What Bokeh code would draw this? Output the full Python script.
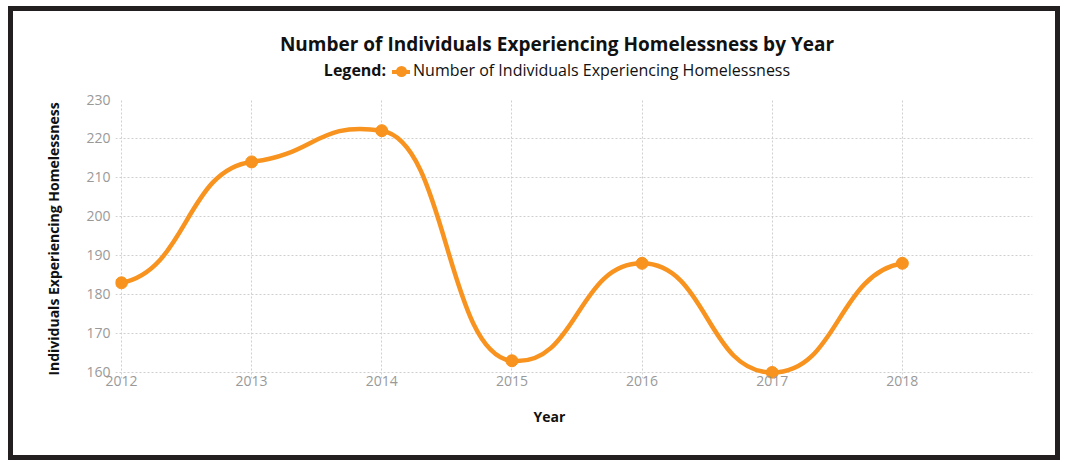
from bokeh.plotting import figure
from bokeh.models import FixedTicker, Range1d, Title, Div
from bokeh.layouts import column
from bokeh.embed import file_html
from bokeh.resources import INLINE

# ---- data ----
years = [2012, 2013, 2014, 2015, 2016, 2017, 2018]
individuals = [183, 214, 222, 163, 188, 160, 188]
y_ticks = [160, 170, 180, 190, 200, 210, 220, 230]
title_text = "Number of Individuals Experiencing Homelessness by Year"
legend_title = "Legend:"
series_name = "Number of Individuals Experiencing Homelessness"
y_label = "Individuals Experiencing Homelessness"
x_label = "Year"

ORANGE = "#F7931E"
FONT = "Open Sans"
DARK = "#111111"
BORDER = "5px solid #231F20"

# ---- header (title + legend) ----
marker = (f'<span style="display:inline-block;position:relative;width:18px;height:4px;'
          f'background:{ORANGE};vertical-align:middle;margin:0 3px 0 6px;">'
          f'<span style="position:absolute;left:4px;top:-4px;width:11px;height:11px;'
          f'border-radius:50%;background:{ORANGE};"></span></span>')
header_html = (
    f'<div style="position:relative;width:1042px;height:73px;font-family:\'{FONT}\';color:{DARK};">'
    f'<div style="position:absolute;left:0;width:1088px;top:21px;text-align:center;'
    f'font-size:19px;font-weight:bold;line-height:24px;white-space:nowrap;">{title_text}</div>'
    f'<div style="position:absolute;left:0;width:1088px;top:49px;text-align:center;'
    f'font-size:16px;line-height:20px;white-space:nowrap;">'
    f'<b>{legend_title}</b>{marker}{series_name}</div>'
    f'</div>'
)
header = Div(text=header_html, width=1052, height=78, margin=0,
             styles={"border-top": BORDER, "border-left": BORDER, "border-right": BORDER,
                     "box-sizing": "border-box", "overflow": "hidden"})

# ---- chart ----
# small padding below 160 and left of 2012 so the end markers are not clipped
p = figure(width=1052, height=376, output_backend="svg", toolbar_location=None,
           x_range=Range1d(2011.954, 2019), y_range=Range1d(158.46, 230),
           min_border_left=102, min_border_right=33, min_border_top=15, min_border_bottom=82,
           margin=0)
p.title_location = None
p.styles = {"border-left": BORDER, "border-right": BORDER, "border-bottom": BORDER,
            "box-sizing": "border-box", "overflow": "hidden"}
p.outline_line_color = None
p.background_fill_color = "white"

for ax in (p.xaxis[0], p.yaxis[0]):
    ax.axis_line_color = None
    ax.major_tick_line_color = None
    ax.minor_tick_line_color = None
    ax.major_tick_out = 0
    ax.major_tick_in = 0
    ax.major_label_text_font = FONT
    ax.major_label_text_font_size = "14px"
    ax.major_label_text_color = "#999999"

p.xaxis.ticker = FixedTicker(ticks=years)
p.xaxis.major_label_text_align = "left"
p.xaxis.major_label_standoff = -3
p.yaxis.ticker = FixedTicker(ticks=y_ticks)
p.yaxis.major_label_standoff = 5
p.yaxis.major_label_text_baseline = "bottom"
p.yaxis.axis_label = y_label
p.yaxis.axis_label_text_font = FONT
p.yaxis.axis_label_text_font_size = "14px"
p.yaxis.axis_label_text_font_style = "bold"
p.yaxis.axis_label_text_color = DARK
p.yaxis.axis_label_standoff = 20

p.add_layout(Title(text=x_label, align="left", offset=418, text_font=FONT, text_font_size="14px",
                   text_font_style="bold", text_color=DARK, standoff=33), "below")

for g in (p.xgrid[0], p.ygrid[0]):
    g.grid_line_color = "#cfcfcf"
    g.grid_line_dash = "2 2"
    g.grid_line_width = 1

# smooth curve through the points (cubic bezier, near-horizontal handles)
n = len(years)
hy = []
for i in range(n):
    if i == 0:
        hy.append(0.1 * (individuals[1] - individuals[0]))
    elif i == n - 1:
        hy.append(0.1 * (individuals[-1] - individuals[-2]))
    else:
        hy.append(0.05 * (individuals[i + 1] - individuals[i - 1]))
x0 = years[:-1]; y0 = individuals[:-1]
x1 = years[1:]; y1 = individuals[1:]
cx0 = [a + 0.5 * (b - a) for a, b in zip(x0, x1)]
cy0 = [individuals[i] + hy[i] for i in range(n - 1)]
cx1 = [b - 0.5 * (b - a) for a, b in zip(x0, x1)]
cy1 = [individuals[i + 1] - hy[i + 1] for i in range(n - 1)]

p.bezier(x0=x0, y0=y0, x1=x1, y1=y1, cx0=cx0, cy0=cy0, cx1=cx1, cy1=cy1,
         line_color=ORANGE, line_width=4.5)
p.scatter(years, individuals, size=12, fill_color=ORANGE, line_color=ORANGE)

layout = column(header, p, spacing=0, styles={"margin-left": "8px", "margin-top": "6px"})

open("out.html", "w").write(file_html(layout, INLINE))
